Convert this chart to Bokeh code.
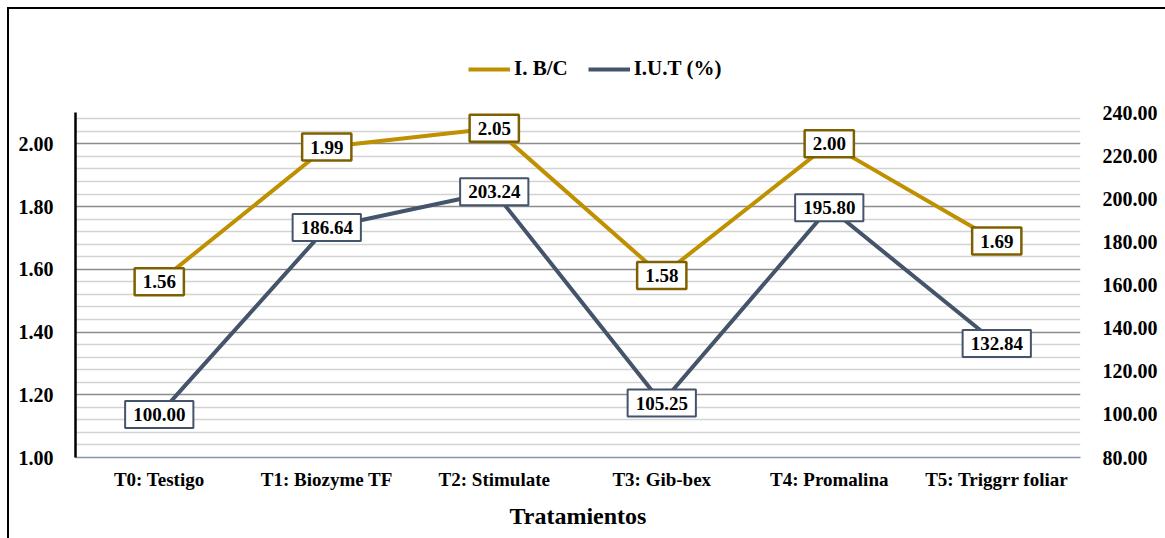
from bokeh.plotting import figure
from bokeh.models import (Range1d, LinearAxis, FixedTicker, NumeralTickFormatter,
                          Legend, LegendItem, ColumnDataSource, FactorRange)
from bokeh.core.properties import value
from bokeh.embed import file_html
from bokeh.resources import INLINE

categories = ["T0: Testigo", "T1: Biozyme TF", "T2: Stimulate", "T3: Gib-bex",
              "T4: Promalina", "T5: Triggrr foliar"]
ibc = [1.56, 1.99, 2.05, 1.58, 2.00, 1.69]
iut = [100.00, 186.64, 203.24, 105.25, 195.80, 132.84]
left_ticks = [1.0, 1.2, 1.4, 1.6, 1.8, 2.0]
right_ticks = [80, 100, 120, 140, 160, 180, 200, 220, 240]
left_lim = (1.0, 2.1)
right_lim = (80, 240)

GOLD = "#BF9000"
GOLD_DARK = "#7F6000"
NAVY = "#44546A"
FONT = "Liberation Serif"

# layout: plot area 345 px tall, frame extended upward to host the legend
PLOT_H = 345
FRAME_H = 417
ext = FRAME_H / PLOT_H

src = ColumnDataSource(dict(
    cat=categories, ibc=ibc, iut=iut,
    ibc_txt=[f"{v:.2f}" for v in ibc],
    iut_txt=[f"{v:.2f}" for v in iut],
))

p = figure(x_range=FactorRange(*categories, range_padding=0),
           y_range=Range1d(left_lim[0], left_lim[0] + (left_lim[1] - left_lim[0]) * ext),
           frame_width=1005, frame_height=FRAME_H,
           min_border_left=66, min_border_right=85,
           min_border_top=31, min_border_bottom=81,
           output_backend="svg", toolbar_location=None,
           outline_line_color=None,
           styles={"margin-left": "7px", "margin-top": "7px",
                   "border-left": "2px solid black", "border-top": "2px solid black"})
p.extra_y_ranges = {"iut": Range1d(right_lim[0], right_lim[0] + (right_lim[1] - right_lim[0]) * ext)}

# grid
minor = [round(1.0 + 0.04 * i, 2) for i in range(1, 28) if i % 5 != 0]
tk = FixedTicker(ticks=left_ticks, minor_ticks=minor)
p.yaxis[0].ticker = tk
p.ygrid.ticker = tk
p.ygrid.grid_line_color = "#8C8C8C"
p.ygrid.grid_line_width = 1.5
p.ygrid.minor_grid_line_color = "#D3D3D3"
p.ygrid.minor_grid_line_width = 1.5
p.xgrid.grid_line_color = None

# left axis
la = p.yaxis[0]
la.bounds = left_lim
la.formatter = NumeralTickFormatter(format="0.00")
la.axis_line_color = "black"
la.axis_line_width = 2.5
la.major_tick_line_color = None
la.minor_tick_line_color = None
la.major_label_standoff = 16
la.major_label_text_font = FONT
la.major_label_text_font_style = "bold"
la.major_label_text_font_size = "20px"
la.major_label_text_color = "black"

# right axis
ra = LinearAxis(y_range_name="iut", ticker=FixedTicker(ticks=right_ticks),
                formatter=NumeralTickFormatter(format="0.00"), bounds=right_lim)
ra.axis_line_color = None
ra.major_tick_line_color = None
ra.minor_tick_line_color = None
ra.major_label_standoff = 16
ra.major_label_text_font = FONT
ra.major_label_text_font_style = "bold"
ra.major_label_text_font_size = "20px"
ra.major_label_text_color = "black"
p.add_layout(ra, "right")

# x axis
xa = p.xaxis[0]
xa.axis_line_color = "#8496B0"
xa.axis_line_width = 1.5
xa.major_tick_line_color = None
xa.minor_tick_line_color = None
xa.major_label_standoff = 5
xa.major_label_text_font = FONT
xa.major_label_text_font_style = "bold"
xa.major_label_text_font_size = "19px"
xa.major_label_text_color = "black"
xa.axis_label = "Tratamientos"
xa.axis_label_text_font = FONT
xa.axis_label_text_font_style = "bold"
xa.axis_label_text_font_size = "24px"
xa.axis_label_standoff = 10
xa.axis_label_text_color = "black"

r1 = p.line("cat", "ibc", source=src, line_color=GOLD, line_width=4)
r2 = p.line("cat", "iut", source=src, line_color=NAVY, line_width=4, y_range_name="iut")

p.text("cat", "ibc", text="ibc_txt", source=src, text_align="center", text_baseline="middle",
       text_font=value(FONT), text_font_style="bold", text_font_size="19px", text_color="black",
       background_fill_color="white", border_line_color=GOLD_DARK, border_line_width=2.5,
       padding=(8, 7))
p.text("cat", "iut", text="iut_txt", source=src, text_align="center", text_baseline="middle",
       text_font=value(FONT), text_font_style="bold", text_font_size="19px", text_color="black",
       background_fill_color="white", border_line_color=NAVY, border_line_width=2,
       padding=(8, 7), y_range_name="iut")

legend = Legend(items=[LegendItem(label="I. B/C", renderers=[r1]),
                       LegendItem(label="I.U.T (%)", renderers=[r2])],
                orientation="horizontal", location=(393, 376),
                padding=0, margin=0, spacing=20, label_standoff=4,
                glyph_width=42, glyph_height=20, label_height=20,
                border_line_color=None, background_fill_alpha=0,
                label_text_font=FONT, label_text_font_style="bold",
                label_text_font_size="21px", label_text_color="black")
p.add_layout(legend, "center")

open("out.html", "w").write(file_html(p, INLINE))
